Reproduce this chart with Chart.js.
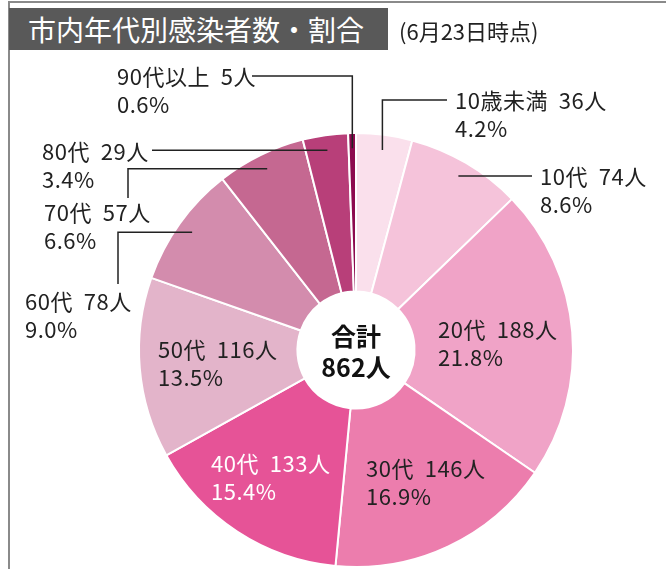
<!DOCTYPE html>
<html lang="ja">
<head>
<meta charset="utf-8">
<script src="https://cdn.jsdelivr.net/npm/chart.js@4"></script>
<style>
  body { margin: 0; background: #fff; font-family: "Noto Sans CJK JP", sans-serif; }
  #wrap { position: relative; width: 666px; height: 569px; overflow: hidden; }
  #frameTop { position: absolute; left: 8px; top: 1px; width: 658px; height: 2px; background: #8a8a8a; }
  #frameLeft { position: absolute; left: 8px; top: 1px; width: 2px; height: 568px; background: #8a8a8a; }
  #titulo { position: absolute; left: 9px; top: 8px; width: 379px; height: 42px; background: #595959;
            color: #fff; font-size: 28px; line-height: 42px; padding-left: 19px; box-sizing: border-box; }
  #fecha { position: absolute; left: 399px; top: 15px; font-size: 22px; line-height: 30px; color: #222; }
  #graf { position: absolute; left: 0; top: 0; width: 666px; height: 569px; }
</style>
</head>
<body>
<div id="wrap">
  <div id="graf"><canvas id="graficaEdades"></canvas></div>
  <div id="frameTop"></div>
  <div id="frameLeft"></div>
  <div id="titulo">市内年代別感染者数・割合</div>
  <div id="fecha">(6月23日時点)</div>
</div>
<script>
// Datos
const categorias = ['10歳未満', '10代', '20代', '30代', '40代', '50代', '60代', '70代', '80代', '90代以上'];
const personas = [36, 74, 188, 146, 133, 116, 78, 57, 29, 5];
const colores = ['#fae0ec', '#f5c3da', '#f0a3c7', '#ec7dad', '#e65397', '#e3b4ca', '#d38cad', '#c56891', '#b83f79', '#8c0a4f'];

const total = personas.reduce((a, b) => a + b, 0);

// posición de las etiquetas (layout)
// tipo: 'in' dentro, 'h' línea horizontal, 'up' sube y luego horizontal, 'down' horizontal y baja a la etiqueta
const etiquetas = [
    { x: 455, y: 101, tipo: 'up', fin: 447 },
    { x: 540, y: 180, tipo: 'h', fin: 532 },
    { x: 438, y: 330, tipo: 'in' },
    { x: 366, y: 469, tipo: 'in' },
    { x: 211, y: 464, tipo: 'in', blanco: true },
    { x: 158, y: 350, tipo: 'in' },
    { x: 25, y: 302, tipo: 'down', cx: 118, cy: 284 },
    { x: 44, y: 213, tipo: 'down', cx: 128, cy: 198 },
    { x: 42, y: 144, tipo: 'h', fin: 152 },
    { x: 117, y: 77, tipo: 'up', fin: 252 }
];

const pluginEtiquetas = {
    id: 'etiquetas',
    afterDraw(chart) {
        const ctx = chart.ctx;
        const arcos = chart.getDatasetMeta(0).data;
        ctx.save();
        ctx.strokeStyle = '#222';
        ctx.lineWidth = 1.5;
        arcos.forEach((arco, i) => {
            const e = etiquetas[i];
            const mid = (arco.startAngle + arco.endAngle) / 2;
            const r = arco.outerRadius * 0.93;
            const px = arco.x + Math.cos(mid) * r;
            const py = arco.y + Math.sin(mid) * r;
            ctx.beginPath();
            if (e.tipo === 'up') {
                ctx.moveTo(px, py);
                ctx.lineTo(px, e.y - 1);
                ctx.lineTo(e.fin, e.y - 1);
            } else if (e.tipo === 'h') {
                ctx.moveTo(px, py);
                ctx.lineTo(e.fin, py);
            } else if (e.tipo === 'down') {
                ctx.moveTo(px, py);
                ctx.lineTo(e.cx, py);
                ctx.lineTo(e.cx, e.cy);
            }
            ctx.stroke();

            const pct = (personas[i] / total * 100).toFixed(1) + '%';
            ctx.fillStyle = e.blanco ? '#fff' : '#222';
            ctx.font = '22px "Noto Sans CJK JP"';
            ctx.letterSpacing = '0.5px';
            ctx.textBaseline = 'middle';
            ctx.textAlign = 'left';
            let y1 = e.tipo === 'h' ? py + 1 : e.y;
            ctx.fillText(categorias[i] + '  ' + personas[i] + '人', e.x, y1);
            ctx.fillText(pct, e.x, y1 + 28);
        });

        // total en el centro
        const c = arcos[0];
        ctx.letterSpacing = '0px';
        ctx.fillStyle = '#111';
        ctx.textAlign = 'center';
        ctx.font = 'bold 25px "Noto Sans CJK JP"';
        ctx.fillText('合計', c.x, c.y - 14);
        ctx.fillText(total + '人', c.x, c.y + 17);
        ctx.restore();
    }
};

const ctx = document.getElementById('graficaEdades').getContext('2d');
new Chart(ctx, {
    type: 'doughnut',
    data: {
        labels: categorias,
        datasets: [{
            data: personas,
            backgroundColor: colores,
            borderColor: '#fff',
            borderWidth: 2
        }]
    },
    options: {
        responsive: true,
        maintainAspectRatio: false,
        animation: false,
        cutout: '27%',
        layout: { padding: { left: 138, right: 92, top: 132, bottom: 1 } },
        events: [],
        plugins: {
            legend: { display: false },
            tooltip: { enabled: false }
        }
    },
    plugins: [pluginEtiquetas]
});
</script>
</body>
</html>
